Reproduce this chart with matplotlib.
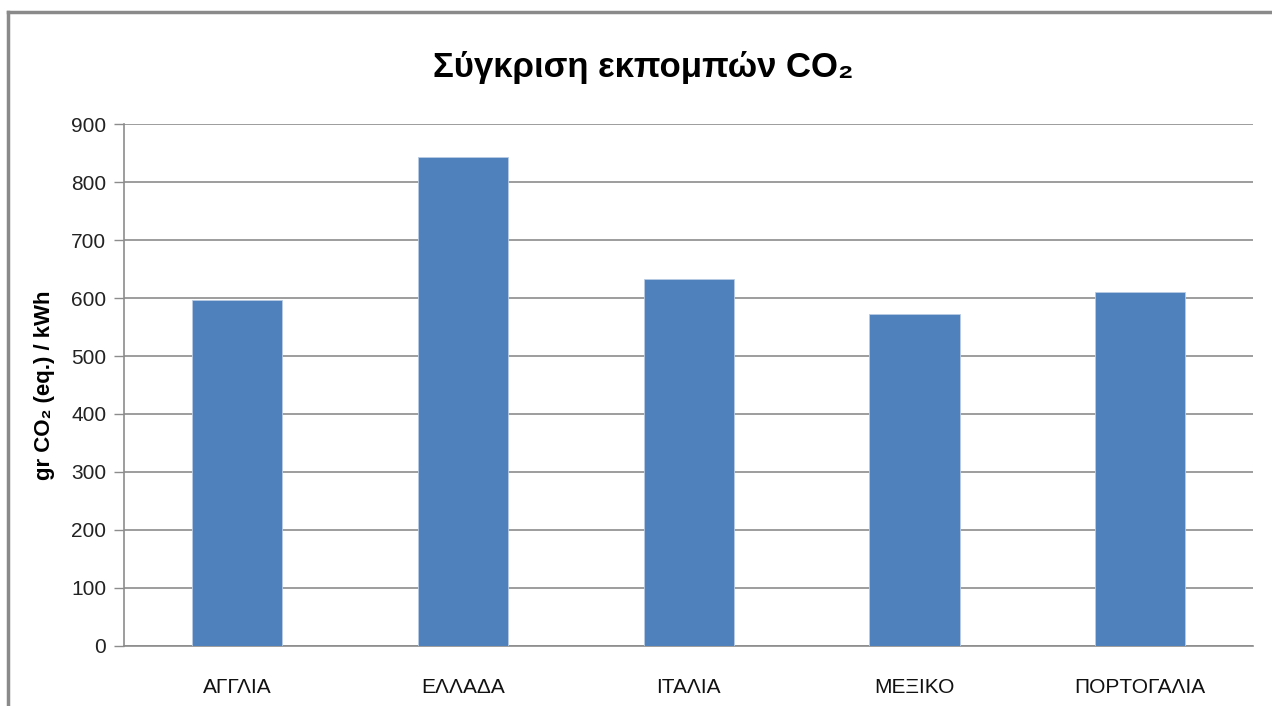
import matplotlib
matplotlib.use("Agg")
import matplotlib.pyplot as plt
from matplotlib.lines import Line2D

countries = ["ΑΓΓΛΙΑ", "ΕΛΛΑΔΑ", "ΙΤΑΛΙΑ", "ΜΕΞΙΚΟ", "ΠΟΡΤΟΓΑΛΙΑ"]
emissions = [596, 843, 633, 572, 611]
y_ticks = [0, 100, 200, 300, 400, 500, 600, 700, 800, 900]

title = "Σύγκριση εκπομπών CO₂"
ylabel = "gr CO₂ (eq.) / kWh"

fonts = ["Liberation Sans", "DejaVu Sans"]
plt.rcParams["font.family"] = fonts

W, H = 1272, 706
fig = plt.figure(figsize=(W / 100, H / 100), dpi=100)
fig.patch.set_facecolor("white")

# plot area in pixel coordinates
left, right, top, bottom = 124.3, 1253, 124.3, 645.7
ax = fig.add_axes([left / W, 1 - bottom / H, (right - left) / W, (bottom - top) / H])

grid_col = "#8c8c8c"
x = range(len(countries))
ax.bar(x, emissions, width=0.4, color="#4F81BD", edgecolor="#b8cce4", linewidth=0.6, zorder=3)
ax.set_xlim(-0.5, len(countries) - 0.5)
ax.set_ylim(0, 900)
ax.set_yticks(y_ticks)
ax.set_yticklabels([str(v) for v in y_ticks], fontsize=15, color="#222222")
ax.set_xticks(list(x))
ax.set_xticklabels(countries, fontsize=15, color="#111111")
ax.tick_params(axis="y", length=7, width=1, color=grid_col, pad=6)
ax.tick_params(axis="x", length=0, pad=23)

ax.grid(axis="y", color=grid_col, linewidth=1.2, zorder=0)
for s in ["top", "right"]:
    ax.spines[s].set_visible(False)
ax.spines["left"].set_color(grid_col)
ax.spines["bottom"].set_color(grid_col)
ax.spines["left"].set_linewidth(1.2)
ax.spines["bottom"].set_linewidth(1.2)

ax.set_ylabel(ylabel, fontsize=16, fontweight="bold")
ax.yaxis.set_label_coords(-0.061, 0.5)

fig.text(0.506, 1 - 68 / H, title, ha="center", va="center",
         fontsize=25, fontweight="bold", color="black")

# outer chart frame (top and left edges visible)
fig.add_artist(Line2D([8 / W, 1], [1 - 12 / H, 1 - 12 / H], transform=fig.transFigure,
                      color="#8a8a8a", linewidth=2.5))
fig.add_artist(Line2D([8 / W, 8 / W], [0, 1 - 12 / H], transform=fig.transFigure,
                      color="#8a8a8a", linewidth=2.5))

fig.savefig("out.png", dpi=100, facecolor="white")
